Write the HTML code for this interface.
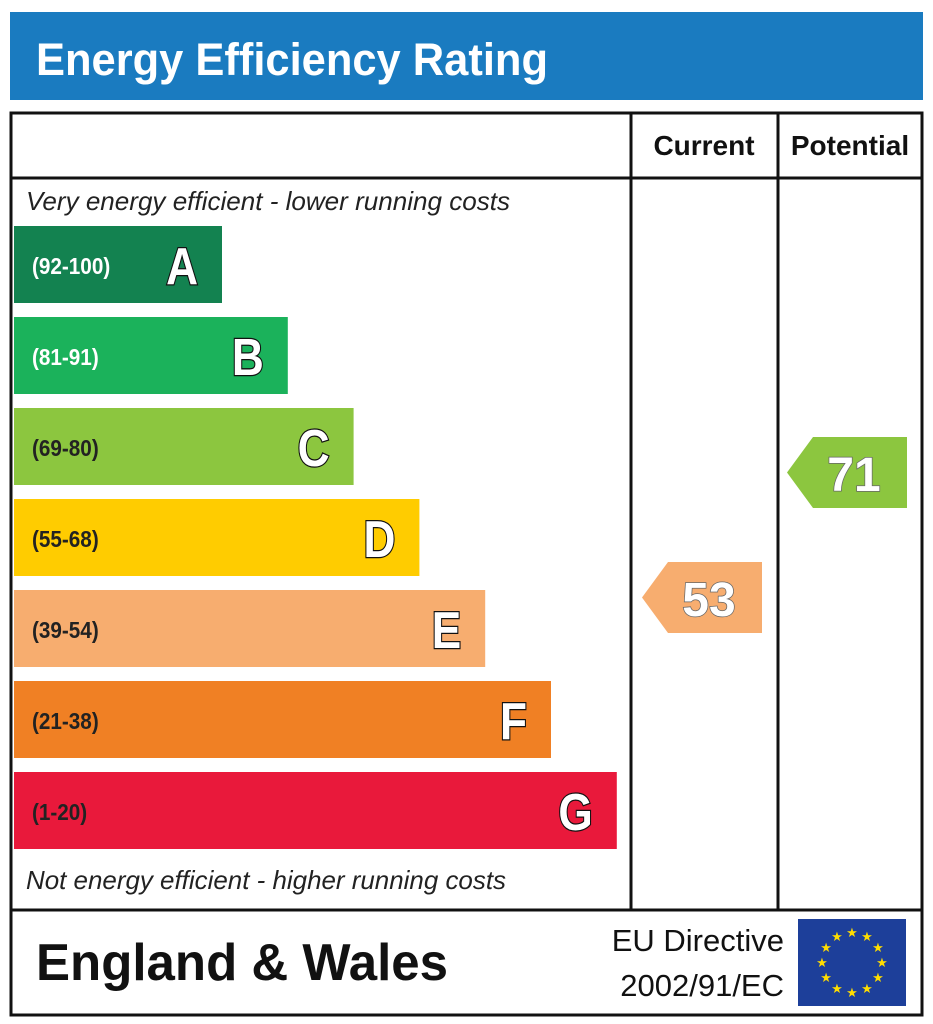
<!DOCTYPE html>
<html><head><meta charset="utf-8"><style>
body{margin:0;background:#fff;}
svg{display:block;font-family:"Liberation Sans",Arial,sans-serif;}
</style></head><body>
<svg id="epc" width="933" height="1024" viewBox="0 0 933 1024">
<rect x="10" y="12" width="913" height="88" fill="#1a7bc0"/>
<text x="36" y="75" font-size="45" font-weight="bold" fill="#fff" textLength="512" lengthAdjust="spacingAndGlyphs">Energy Efficiency Rating</text>
<rect x="11" y="113" width="911" height="797" fill="none" stroke="#111" stroke-width="3"/>
<line x1="631" y1="113" x2="631" y2="910" stroke="#111" stroke-width="3"/>
<line x1="778" y1="113" x2="778" y2="910" stroke="#111" stroke-width="3"/>
<line x1="11" y1="178" x2="922" y2="178" stroke="#111" stroke-width="3"/>
<text x="704" y="155" font-size="28" font-weight="bold" text-anchor="middle" fill="#111">Current</text>
<text x="850" y="155" font-size="28" font-weight="bold" text-anchor="middle" fill="#111">Potential</text>
<text x="26" y="210" font-size="26" font-style="italic" fill="#222" textLength="484" lengthAdjust="spacingAndGlyphs">Very energy efficient - lower running costs</text>
<text x="26" y="889" font-size="26" font-style="italic" fill="#222" textLength="480" lengthAdjust="spacingAndGlyphs">Not energy efficient - higher running costs</text>
<g id="bands"></g>
<g id="arrows"></g>
<rect x="11" y="910" width="911" height="105" fill="none" stroke="#111" stroke-width="3"/>
<text x="36" y="980" font-size="52" font-weight="bold" fill="#111" textLength="412" lengthAdjust="spacingAndGlyphs">England &amp; Wales</text>
<text x="784" y="951" font-size="31" text-anchor="end" fill="#111">EU Directive</text>
<text x="784" y="996" font-size="31" text-anchor="end" fill="#111">2002/91/EC</text>
<rect x="798" y="919" width="108" height="87" fill="#1d3f9a"/>
<g id="stars"></g>
</svg>
<script>
const letters=["A","B","C","D","E","F","G"];
const ranges=["(92-100)","(81-91)","(69-80)","(55-68)","(39-54)","(21-38)","(1-20)"];
const mins=[92,81,69,55,39,21,1];
const colors=["#138250","#1bb25b","#8cc63f","#ffcc00","#f7ad6f","#f08024","#e9193b"];
const currentRating=53;
const potentialRating=71;
const NS="http://www.w3.org/2000/svg";
function mk(t,a){const e=document.createElementNS(NS,t);for(const k in a)e.setAttribute(k,a[k]);return e;}
const bandTop=i=>226+i*91, bandH=77, bandW=i=>208+i*65.8;
const bg=document.getElementById("bands");
letters.forEach((L,i)=>{
 const r=mk("rect",{x:14,y:bandTop(i),width:bandW(i),height:bandH,fill:colors[i]});
 
 
 bg.appendChild(r);
 const t=mk("text",{x:32,y:bandTop(i)+48,"font-size":23,"font-weight":"bold",fill:i<2?"#fff":"#222",transform:`translate(32 0) scale(0.9 1) translate(-32 0)`});
 t.setAttribute("transform",`translate(${32*0.1} 0) scale(0.9 1)`);
 t.textContent=ranges[i];
 
 
 bg.appendChild(t);
 const ex=14+bandW(i)-24;
 const l=mk("text",{x:ex/0.85,y:bandTop(i)+58,"font-size":52,"font-weight":"bold","text-anchor":"end",fill:"#fff",stroke:"#111","stroke-width":2.5,"paint-order":"stroke",transform:"scale(0.85 1)"});
 l.textContent=L;
 
 
 bg.appendChild(l);
});
function bandOf(v){for(let i=0;i<mins.length;i++)if(v>=mins[i])return i;return 6;}
const ag=document.getElementById("arrows");
function arrow(v,x0,name){
 const i=bandOf(v);
 const yy=i===4?562:(i===2?437:bandTop(i));
 const h=71,w=120,tip=26;
 const p=mk("polygon",{points:`${x0},${yy+h/2} ${x0+tip},${yy} ${x0+w},${yy} ${x0+w},${yy+h} ${x0+tip},${yy+h}`,fill:colors[i]});
 
 
 ag.appendChild(p);
 const t=mk("text",{x:x0+w/2+7,y:yy+54,"font-size":48,"font-weight":"bold","text-anchor":"middle",fill:"#fff",stroke:"#666","stroke-width":1.5,"paint-order":"stroke"});
 t.textContent=v;
 
 
 ag.appendChild(t);
}
arrow(currentRating,642,"current-rating");
arrow(potentialRating,787,"potential-rating");
const sg=document.getElementById("stars");
for(let k=0;k<12;k++){const a=k*Math.PI/6;const s=mk("text",{x:852+30*Math.sin(a),y:962-30*Math.cos(a)+5,"font-size":13,"text-anchor":"middle",fill:"#ffdd00"});s.textContent="★";
 
 
 sg.appendChild(s);}
</script>
</body></html>
